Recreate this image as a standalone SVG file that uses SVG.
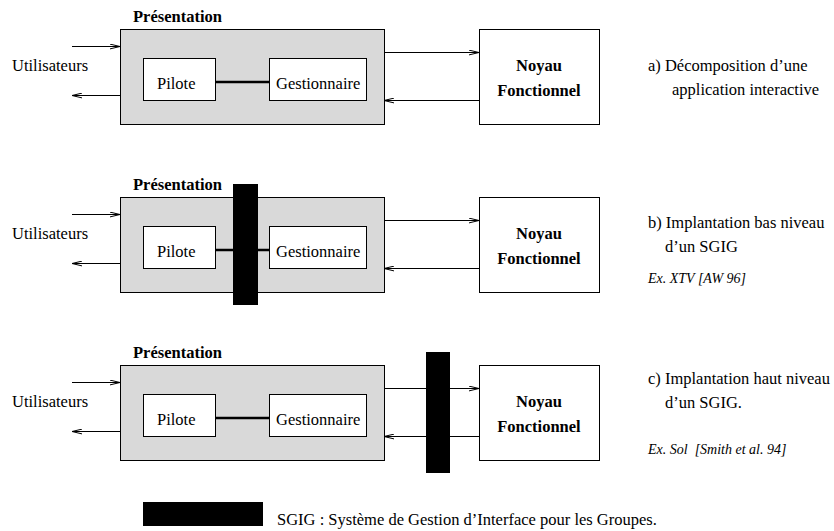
<svg xmlns="http://www.w3.org/2000/svg" width="834" height="531" viewBox="0 0 834 531" font-family="'Liberation Serif', Tinos, 'Times New Roman', Times, serif">
  <style>
    text { font-family: 'Liberation Serif', Tinos, 'Times New Roman', Times, serif; font-size: 16.5px; fill: #000; }
    .b { font-weight: bold; }
    .it { font-style: italic; font-size: 14px; white-space: pre; }
    .mid { text-anchor: middle; }
    .pres { fill: #d9d9d9; stroke: #000; stroke-width: 1; }
    .box { fill: #fff; stroke: #000; stroke-width: 1; }
    .bar { fill: #000; }
    .link { stroke: #000; stroke-width: 2.6; fill: none; }
    .arr { stroke: #000; stroke-width: 1; fill: none; marker-end: url(#head); }
  </style>
  <defs>
    <marker id="head" markerUnits="userSpaceOnUse" viewBox="0 0 10 6" refX="10" refY="3" markerWidth="10" markerHeight="6" orient="auto">
      <path d="M0,0.6 L10,3 L0,5.4" fill="none" stroke="#000" stroke-width="1"/>
    </marker>
  </defs>
  <rect width="834" height="531" fill="#fff"/>

  <!-- a) decomposition -->
  <g id="pres-a">
    <text class="b" x="133" y="22">Présentation</text>
    <rect class="pres" x="120.5" y="29.5" width="264" height="95"/>
  </g>
  <g id="pilote-a">
    <rect class="box" x="143.5" y="58.5" width="72" height="42"/>
    <text x="157" y="89">Pilote</text>
  </g>
  <g id="gest-a">
    <rect class="box" x="269.5" y="58.5" width="97" height="42"/>
    <text x="276" y="89">Gestionnaire</text>
  </g>
  <g id="noyau-a">
    <rect class="box" x="479.5" y="29.5" width="120" height="95"/>
    <text class="b mid" x="539" y="71">Noyau</text>
    <text class="b mid" x="539" y="96">Fonctionnel</text>
  </g>
  <g id="users-a"><text x="12" y="71">Utilisateurs</text></g>
  <g id="caption-a">
    <text x="648" y="71">a) Décomposition d’une</text>
    <text x="672" y="95">application interactive</text>
  </g>
  <g id="connectors-a">
    <path class="link" d="M215,82 H269"/>
    <path class="arr" d="M72,46.5 H120"/>
    <path class="arr" d="M120,95.5 H72"/>
    <path class="arr" d="M384,52.5 H479"/>
    <path class="arr" d="M479,100.5 H384"/>
  </g>

  <!-- b) low-level toolkit -->
  <g id="pres-b">
    <text class="b" x="133" y="190">Présentation</text>
    <rect class="pres" x="120.5" y="197.5" width="264" height="95"/>
  </g>
  <g id="pilote-b">
    <rect class="box" x="143.5" y="226.5" width="72" height="42"/>
    <text x="157" y="257">Pilote</text>
  </g>
  <g id="gest-b">
    <rect class="box" x="269.5" y="226.5" width="97" height="42"/>
    <text x="276" y="257">Gestionnaire</text>
  </g>
  <g id="noyau-b">
    <rect class="box" x="479.5" y="197.5" width="120" height="95"/>
    <text class="b mid" x="539" y="239">Noyau</text>
    <text class="b mid" x="539" y="264">Fonctionnel</text>
  </g>
  <g id="users-b"><text x="12" y="239">Utilisateurs</text></g>
  <g id="connectors-b">
    <path class="link" d="M215,250 H269"/>
    <path class="arr" d="M72,214.5 H120"/>
    <path class="arr" d="M120,263.5 H72"/>
    <path class="arr" d="M384,220.5 H479"/>
    <path class="arr" d="M479,268.5 H384"/>
  </g>
  <g id="sgig-b"><rect class="bar" x="233" y="184" width="25" height="121"/></g>
  <g id="caption-b">
    <text x="648" y="228">b) Implantation bas niveau</text>
    <text x="665" y="252">d’un SGIG</text>
    <text class="it" x="648" y="283">Ex. XTV [AW 96]</text>
  </g>

  <!-- c) high-level toolkit -->
  <g id="pres-c">
    <text class="b" x="133" y="358">Présentation</text>
    <rect class="pres" x="120.5" y="365.5" width="264" height="95"/>
  </g>
  <g id="pilote-c">
    <rect class="box" x="143.5" y="394.5" width="72" height="42"/>
    <text x="157" y="425">Pilote</text>
  </g>
  <g id="gest-c">
    <rect class="box" x="269.5" y="394.5" width="97" height="42"/>
    <text x="276" y="425">Gestionnaire</text>
  </g>
  <g id="noyau-c">
    <rect class="box" x="479.5" y="365.5" width="120" height="95"/>
    <text class="b mid" x="539" y="407">Noyau</text>
    <text class="b mid" x="539" y="432">Fonctionnel</text>
  </g>
  <g id="users-c"><text x="12" y="407">Utilisateurs</text></g>
  <g id="connectors-c">
    <path class="link" d="M215,418 H269"/>
    <path class="arr" d="M72,382.5 H120"/>
    <path class="arr" d="M120,431.5 H72"/>
    <path class="arr" d="M384,388.5 H479"/>
    <path class="arr" d="M479,436.5 H384"/>
  </g>
  <g id="sgig-c"><rect class="bar" x="426" y="352" width="24" height="121"/></g>
  <g id="caption-c">
    <text x="648" y="384">c) Implantation haut niveau</text>
    <text x="665" y="408">d’un SGIG.</text>
    <text class="it" x="648" y="454">Ex. Sol  [Smith et al. 94]</text>
  </g>

  <!-- legend -->
  <g id="legend">
    <rect class="bar" x="143" y="502" width="120" height="24"/>
    <text x="277" y="525">SGIG : Système de Gestion d’Interface pour les Groupes.</text>
  </g>
</svg>
